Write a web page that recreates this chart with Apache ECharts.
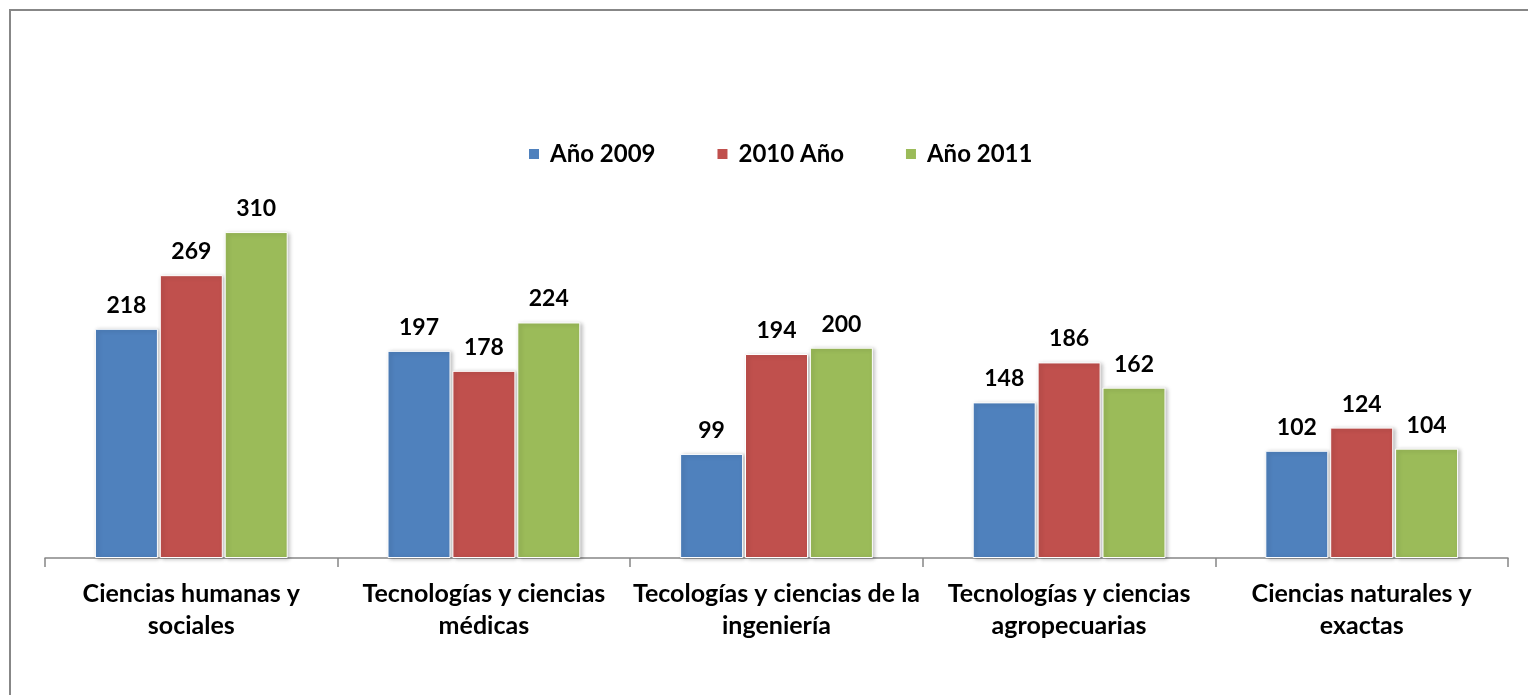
<!DOCTYPE html>
<html>
<head>
<meta charset="utf-8">
<script src="https://cdn.jsdelivr.net/npm/echarts@6/dist/echarts.min.js"></script>
<style>
  html, body { margin: 0; padding: 0; background: #fff; }
  #frame {
    position: absolute; left: 9px; top: 9px; width: 1530px; height: 700px;
    border-left: 2px solid #878787; border-top: 2px solid #878787;
  }
  #main { position: absolute; left: 0; top: 0; width: 1528px; height: 695px; }
</style>
</head>
<body>
<div id="frame"></div>
<div id="main"></div>
<script>
const categories = [
  "Ciencias humanas y\nsociales",
  "Tecnologías y ciencias\nmédicas",
  "Tecologías y ciencias de la\ningeniería",
  "Tecnologías y ciencias\nagropecuarias",
  "Ciencias naturales y\nexactas"
];
const seriesNames = ["Año 2009", "2010 Año", "Año 2011"];
const values2009 = [218, 197, 99, 148, 102];
const values2010 = [269, 178, 194, 186, 124];
const values2011 = [310, 224, 200, 162, 104];
const colors = ["#4F81BD", "#C0504D", "#9BBB59"];

const font = "Lato";
const chart = echarts.init(document.getElementById("main"));

function makeSeries(name, data, color) {
  return {
    name: name,
    type: "bar",
    data: data,
    barWidth: 63,
    barGap: "3%",
    itemStyle: {
      color: color,
      borderColor: "#fff",
      borderWidth: 1,
      shadowColor: "rgba(0,0,0,0.25)",
      shadowBlur: 4,
      shadowOffsetX: 2,
      shadowOffsetY: 1
    },
    label: {
      show: true,
      position: "top",
      distance: 12,
      color: "#000",
      fontFamily: font,
      fontWeight: "bold",
      fontSize: 23
    }
  };
}

const options = {
  animation: false,
  legend: {
    top: 137,
    left: 522,
    itemWidth: 12,
    itemHeight: 12,
    itemGap: 60,
    icon: "rect",
    textStyle: {
      color: "#000",
      fontFamily: font,
      fontWeight: "bold",
      fontSize: 24,
      padding: [0, 0, 0, 5]
    }
  },
  grid: {
    left: 45,
    right: 20,
    top: 190,
    bottom: 137,
    containLabel: false
  },
  xAxis: {
    type: "category",
    data: categories,
    axisLine: { show: true, lineStyle: { color: "#868686", width: 1.5 } },
    axisTick: { show: true, length: 9, lineStyle: { color: "#868686", width: 1.5 } },
    axisLabel: {
      color: "#000",
      fontFamily: font,
      fontWeight: "bold",
      fontSize: 25,
      lineHeight: 32,
      margin: 20,
      interval: 0
    }
  },
  yAxis: {
    type: "value",
    min: 0,
    max: 350,
    show: false,
    splitLine: { show: false }
  },
  series: [
    makeSeries(seriesNames[0], values2009, colors[0]),
    makeSeries(seriesNames[1], values2010, colors[1]),
    makeSeries(seriesNames[2], values2011, colors[2])
  ]
};

chart.setOption(options);
</script>
</body>
</html>
